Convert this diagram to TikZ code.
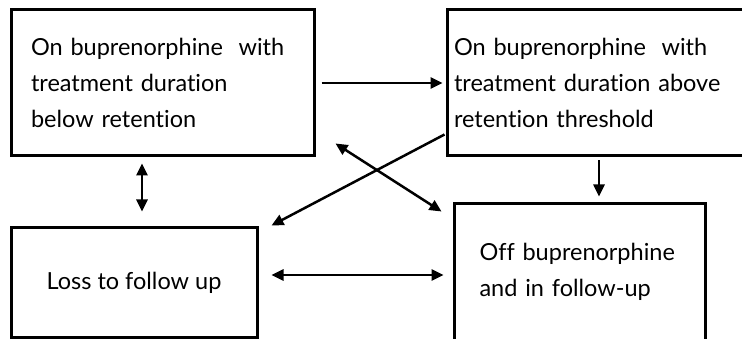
\documentclass[tikz,border=0pt]{standalone}
\usepackage{fontspec}
\setmainfont{Lato}[Ligatures={NoCommon}]
\usepackage{tikz}
\usetikzlibrary{arrows.meta}
\tikzstyle{state} = [draw, line width=3pt, rectangle, inner ysep=0pt, font=\fontsize{23.5}{36}\selectfont]
\tikzstyle{link} = [line width=2.5pt, -{Triangle[length=12pt,width=11pt]}]
\tikzstyle{both} = [line width=2.5pt, {Triangle[length=12pt,width=11pt]}-{Triangle[length=12pt,width=11pt]}]

\begin{document}
\begin{tikzpicture}[x=1pt,y=-1pt]
      \useasboundingbox   (0,0) rectangle (742,339);
      \clip               (0,0) rectangle (742,339);
      \node[state, minimum width=303pt, minimum height=146pt, text width=263pt, inner xsep=20pt, align=left] (below) at (162.5,83) {On buprenorphine~ with\\treatment duration\\below retention};
      \node[state, minimum width=304pt, minimum height=146pt, text width=290pt, inner xsep=7pt, align=left] (above) at (599,83) {On buprenorphine~ with\\treatment duration above\\retention threshold};
      \node[state, minimum width=246pt, minimum height=109pt, align=center] (loss) at (134,282.5) {Loss to follow up};
      \node[state, minimum width=251pt, minimum height=136pt, text width=200pt, inner xsep=25.5pt, align=left] (off) at (579.5,272) {Off buprenorphine\\and in follow-up};
      \draw[link, shorten <=6pt, shorten >=3pt] (below.east) -- (above.west);
      \draw[both] ([shift={(-20.5,6)}]below.south) -- ([shift={(8,-15)}]loss.north);
      \draw[link, shorten <=3pt, shorten >=6pt] (above.south) -- (above.south |- off.north);
      \draw[link] ([shift={(-1,-23)}]above.south west) -- ([shift={(13,-1)}]loss.north east);
      \draw[both] ([shift={(20,-14)}]below.south east) -- ([shift={(-11,9)}]off.north west);
      \draw[both] ([shift={(13,-7.5)}]loss.east) -- ([shift={(-9,3)}]off.west);
\end{tikzpicture}
\end{document}
